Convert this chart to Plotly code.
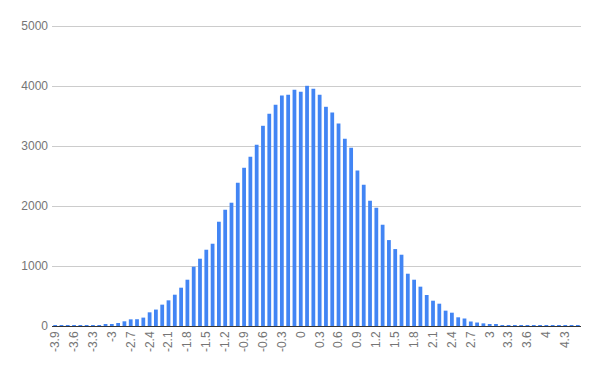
import plotly.graph_objects as go

categories = [
    "-3.9", "-3.8", "-3.7", "-3.6", "-3.5", "-3.4", "-3.3", "-3.2", "-3.1", "-3",
    "-2.9", "-2.8", "-2.7", "-2.6", "-2.5", "-2.4", "-2.3", "-2.2", "-2.1", "-2",
    "-1.9", "-1.8", "-1.7", "-1.6", "-1.5", "-1.4", "-1.3", "-1.2", "-1.1", "-1",
    "-0.9", "-0.8", "-0.7", "-0.6", "-0.5", "-0.4", "-0.3", "-0.2", "-0.1", "0",
    "0.1", "0.2", "0.3", "0.4", "0.5", "0.6", "0.7", "0.8", "0.9", "1",
    "1.1", "1.2", "1.3", "1.4", "1.5", "1.6", "1.7", "1.8", "1.9", "2",
    "2.1", "2.2", "2.3", "2.4", "2.5", "2.6", "2.7", "2.8", "2.9", "3",
    "3.1", "3.2", "3.3", "3.4", "3.5", "3.6", "3.7", "3.8", "4", "4.1",
    "4.2", "4.3", "4.4", "4.5",
]

counts = [
    1, 2, 3, 4, 6, 9, 15, 16, 18, 33,
    50, 78, 111, 113, 140, 228, 274, 356, 428, 522,
    639, 772, 989, 1122, 1272, 1372, 1739, 1939, 2056, 2389,
    2639, 2822, 3022, 3339, 3539, 3689, 3844, 3856, 3939, 3906,
    4006, 3956, 3856, 3656, 3561, 3378, 3122, 2972, 2594, 2356,
    2089, 1972, 1689, 1433, 1283, 1189, 872, 772, 656, 517,
    422, 372, 256, 222, 145, 125, 75, 58, 44, 33,
    17, 16, 15, 8, 6, 4, 3, 2, 1, 1,
    1, 1, 1, 1,
]

y_ticks = [0, 1000, 2000, 3000, 4000, 5000]
label_step = 3
x_tick_labels = categories[::label_step]

fig = go.Figure(
    go.Bar(
        x=categories,
        y=counts,
        marker=dict(color="#4285f4", line=dict(width=0)),
        hoverinfo="skip",
    )
)

fig.update_layout(
    width=600,
    height=371,
    margin=dict(l=52, r=19, t=25, b=45),
    paper_bgcolor="white",
    plot_bgcolor="white",
    bargap=0.4,
    showlegend=False,
    font=dict(family="Arial, Liberation Sans, sans-serif", size=12, color="#757575"),
)

fig.update_xaxes(
    type="category",
    tickmode="array",
    tickvals=x_tick_labels,
    ticktext=x_tick_labels,
    tickangle=-90,
    showgrid=False,
    showline=False,
    ticks="",
    ticklabelstandoff=2,
    automargin=False,
    tickfont=dict(size=12, color="#757575"),
)

fig.update_yaxes(
    range=[0, 5020],
    tickvals=y_ticks,
    showgrid=True,
    gridcolor="#cccccc",
    gridwidth=1,
    zeroline=True,
    zerolinecolor="#333333",
    zerolinewidth=1,
    showline=False,
    ticks="",
    ticklabelstandoff=3,
    automargin=False,
    tickfont=dict(size=12, color="#757575"),
)

fig.write_html(
    "out.html",
    config={"displayModeBar": False},
    post_script="document.body.style.margin='0';document.body.style.overflow='hidden';",
)
